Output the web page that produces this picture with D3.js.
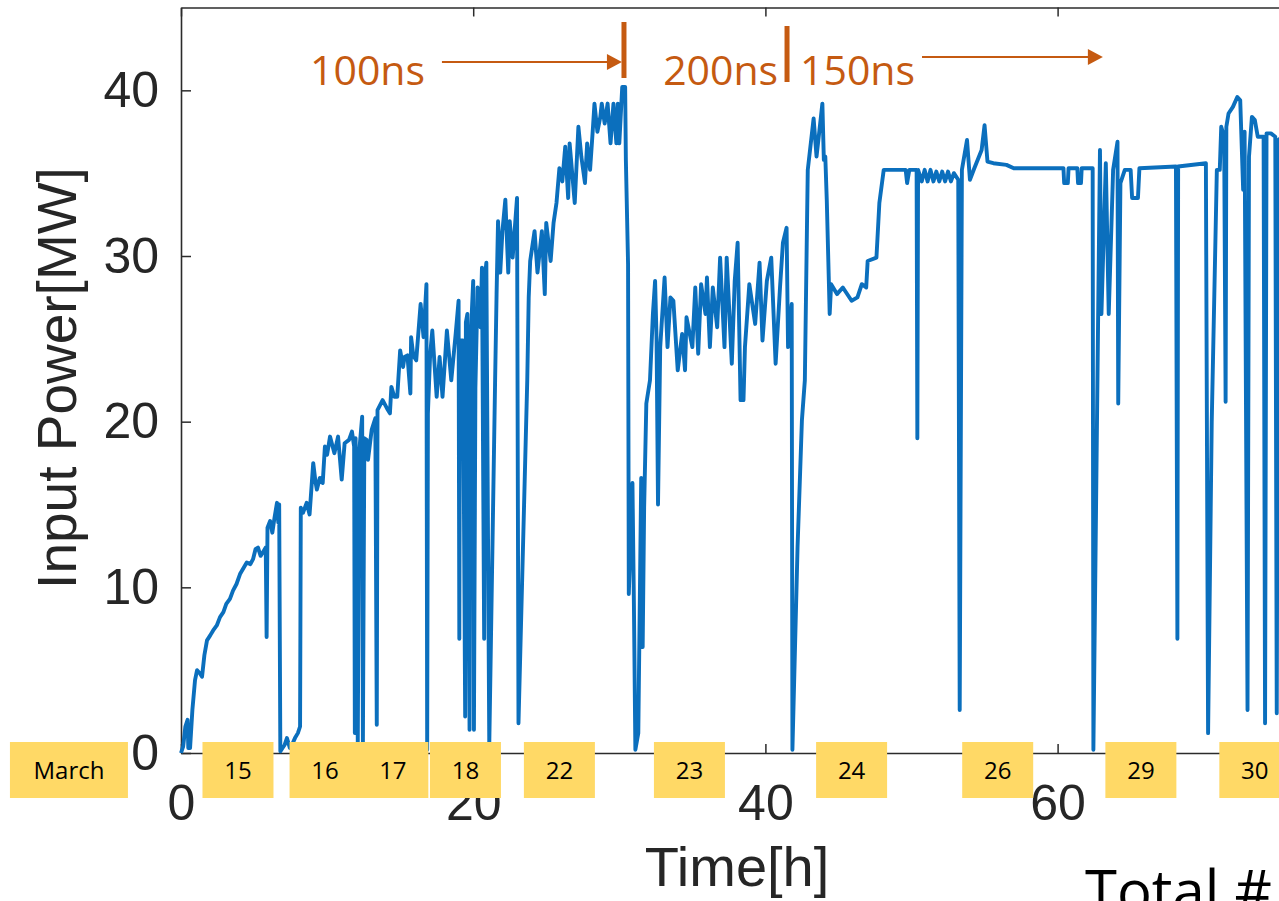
<!DOCTYPE html>
<html>
<head>
<meta charset="utf-8">
<script src="https://cdn.jsdelivr.net/npm/d3@7"></script>
<style>
  body { margin: 0; background: #fff; }
  svg { display: block; }
</style>
</head>
<body>
<div id="chart"></div>
<script>
const Width = 1279
const Height = 901

const xTicks = [0, 20, 40, 60, 80]
const yTicks = [0, 10, 20, 30, 40]

// day markers along the time axis (hours)
const dayLabels = ['March', '15', '16', '17', '18', '22', '23', '24', '26', '29', '30']
const dayHours = [-7.67, 3.9, 9.86, 14.5, 19.47, 25.9, 34.8, 45.9, 55.9, 65.7, 73.5]

// pulse length notes
const pulseLabels = ['100ns', '200ns', '150ns']
const pulseLabelHours = [8.83, 33.0, 42.37]
const pulseBarHours = [30.32, 41.48]
const pulseArrowHours = [[17.86, 30.18], [50.72, 63.1]]

// [hour, MW]
const traceMarch15 = [
  [0, 0], [0.15, 0.4], [0.3, 1.6], [0.45, 2.0], [0.5, 0.3], [0.62, 0.3], [0.78, 2.6], [0.96, 4.4],
  [1.1, 5.0], [1.3, 4.8], [1.44, 4.6], [1.6, 5.9], [1.78, 6.8], [2.0, 7.1], [2.2, 7.4], [2.45, 7.7],
  [2.67, 8.2], [2.9, 8.5], [3.1, 9.0], [3.35, 9.3], [3.56, 9.8], [3.8, 10.2], [4.04, 10.8], [4.3, 11.2],
  [4.5, 11.5], [4.75, 11.4], [4.93, 11.7], [5.1, 12.3], [5.27, 12.4], [5.45, 11.9], [5.6, 12.1], [5.8, 12.4],
  [5.86, 7.0], [5.92, 13.6], [6.1, 14.0], [6.25, 13.3], [6.4, 14.2], [6.57, 15.1], [6.66, 13.9], [6.72, 15.0],
  [6.8, 0.1], [6.95, 0.3], [7.1, 0.5], [7.25, 0.9], [7.45, 0.3], [7.6, 0.5], [7.8, 0.9], [8.0, 1.2], [8.15, 1.6],
]
const traceMarch16to18 = [
  [8.2, 14.8], [8.35, 14.5], [8.6, 15.1], [8.8, 14.4], [9.05, 17.5], [9.2, 16.4], [9.3, 15.9], [9.5, 16.6],
  [9.7, 16.3], [9.85, 18.5], [10.0, 18.0], [10.2, 19.1], [10.5, 18.1], [10.75, 19.1], [11.0, 16.5], [11.2, 18.7],
  [11.5, 18.9], [11.7, 19.4], [11.85, 18.5], [11.9, 1.2], [11.95, 19.0], [12.1, 0.6], [12.2, 18.2], [12.4, 20.3],
  [12.45, 0.6], [12.55, 19.0], [12.7, 18.9], [12.8, 17.7], [13.05, 19.5], [13.3, 20.2], [13.4, 1.7], [13.45, 20.7],
  [13.8, 21.3], [14.1, 20.8], [14.3, 20.5], [14.4, 22.1], [14.6, 21.5], [14.8, 21.5], [15.0, 24.3], [15.2, 23.3],
  [15.3, 23.9], [15.5, 24.0], [15.7, 21.7], [15.75, 25.1], [15.9, 24.0], [16.1, 23.7], [16.4, 27.1], [16.6, 25.1],
  [16.8, 28.3], [16.85, 0.2], [16.9, 20.5], [17.05, 24.0], [17.2, 25.5], [17.5, 21.5], [17.7, 23.9], [17.9, 21.5],
  [18.2, 25.5], [18.5, 22.5], [18.8, 25.3], [19.0, 27.3], [19.05, 6.9], [19.1, 24.9], [19.3, 24.9], [19.45, 2.2],
  [19.5, 26.0], [19.6, 26.5], [19.75, 1.4], [19.8, 24.1], [19.9, 26.5], [20.0, 28.5], [20.05, 1.4], [20.15, 22.0],
  [20.3, 28.1], [20.5, 25.7], [20.6, 29.3], [20.75, 6.9], [20.8, 28.7], [20.9, 29.6], [21.1, 0.5], [21.5, 22.5],
  [21.6, 27.7], [21.7, 32.1], [21.85, 29.0], [22.0, 31.5], [22.2, 33.4], [22.4, 29.0], [22.5, 32.1], [22.7, 29.9],
  [23.0, 33.5], [23.1, 1.8],
]
const traceMarch22 = [
  [23.7, 22.5], [23.8, 27.5], [23.9, 29.7], [24.2, 31.5], [24.4, 29.0], [24.7, 31.5], [24.9, 27.7], [25.0, 32.0],
  [25.3, 29.7], [25.5, 32.0], [25.7, 33.2], [25.9, 35.3], [26.1, 34.5], [26.3, 36.6], [26.5, 33.5], [26.6, 36.8],
  [26.95, 33.2], [27.2, 37.8], [27.4, 36.0], [27.65, 34.4], [27.8, 36.8], [28.0, 35.2], [28.2, 37.8], [28.3, 39.2],
  [28.5, 37.5], [28.7, 38.4], [28.8, 39.2], [29.0, 38.0], [29.2, 39.2], [29.4, 36.8], [29.6, 39.2], [29.8, 36.8],
  [29.9, 39.2], [30.0, 36.8], [30.2, 40.2], [30.4, 40.2], [30.45, 35.8], [30.6, 29.5], [30.65, 9.6],
]
const traceMarch23 = [
  [30.9, 16.3], [31.0, 9.0], [31.1, 0.2], [31.3, 1.2], [31.5, 16.6], [31.6, 6.4], [31.7, 14.8], [31.85, 21.1],
  [32.1, 22.5], [32.3, 26.5], [32.45, 28.5], [32.55, 25.0], [32.65, 15.0], [32.8, 24.5], [33.1, 28.7], [33.3, 24.5],
  [33.5, 27.5], [33.7, 27.3], [34.0, 23.1], [34.3, 25.3], [34.5, 23.1], [34.6, 26.3], [35.0, 24.5], [35.2, 28.1],
  [35.4, 24.1], [35.6, 28.3], [35.9, 26.5], [36.0, 28.7], [36.2, 24.5], [36.4, 28.1], [36.7, 25.7], [36.9, 29.9],
  [37.2, 24.5], [37.35, 29.9], [37.7, 23.5], [37.9, 28.5], [38.1, 30.8], [38.3, 21.3], [38.5, 21.3], [38.6, 24.5],
  [38.9, 28.3], [39.3, 25.9], [39.6, 29.6], [39.8, 24.9], [40.1, 28.5], [40.4, 29.9], [40.7, 23.5], [41.0, 28.1],
  [41.2, 30.8], [41.45, 31.7], [41.55, 24.5], [41.8, 27.1], [41.85, 0.2],
]
const traceMarch24 = [
  [42.2, 12.4], [42.5, 20.1], [42.7, 22.5], [42.85, 32.1], [42.9, 35.2], [43.3, 38.3], [43.5, 36.0], [43.9, 39.2],
  [44.0, 35.8], [44.1, 36.0], [44.2, 33.4], [44.4, 26.5], [44.5, 28.3], [44.9, 27.7], [45.3, 28.1], [45.9, 27.3],
  [46.3, 27.5], [46.6, 28.3], [46.9, 28.1], [47.0, 29.7], [47.6, 29.9], [47.8, 33.2], [48.1, 35.2], [49.6, 35.2],
  [49.7, 34.4], [49.85, 35.2], [50.35, 35.2], [50.4, 19.0], [50.45, 35.2], [50.7, 34.5], [50.9, 35.2], [51.1, 34.5],
  [51.3, 35.2], [51.5, 34.5], [51.7, 35.1], [51.9, 34.5], [52.1, 35.1], [52.3, 34.5], [52.5, 35.1], [52.7, 34.5],
  [52.9, 35.0], [53.2, 34.6], [53.3, 2.6],
]
const traceMarch26 = [
  [53.45, 35.2], [53.8, 37.0], [54.0, 34.6], [54.3, 35.3], [54.8, 36.4], [55.0, 37.9], [55.2, 35.7], [55.6, 35.6],
  [56.5, 35.5], [57.0, 35.3], [60.4, 35.3], [60.45, 34.4], [60.7, 34.4], [60.75, 35.3], [61.35, 35.3], [61.4, 34.4],
  [61.6, 34.4], [61.65, 35.3], [62.4, 35.3], [62.45, 0.2],
]
const traceMarch29 = [
  [62.9, 36.4], [63.0, 26.5], [63.3, 35.6], [63.5, 26.5], [63.8, 35.2], [64.1, 36.9], [64.15, 21.1], [64.3, 34.4],
  [64.6, 35.2], [65.0, 35.2], [65.1, 33.5], [65.5, 33.5], [65.6, 35.3], [68.1, 35.4], [68.2, 6.9], [68.25, 35.4],
  [70.15, 35.6], [70.3, 1.2], [70.55, 20.0], [70.9, 35.2], [71.1, 35.2], [71.2, 37.8], [71.4, 37.2], [71.5, 21.2],
  [71.55, 37.8], [71.7, 38.6], [72.0, 39.0], [72.3, 39.6], [72.5, 39.4], [72.7, 34.0], [72.8, 37.5], [73.0, 2.6],
  [73.1, 36.0], [73.3, 38.4], [73.5, 38.2], [73.7, 37.2], [74.1, 37.2], [74.2, 1.8], [74.3, 37.4], [74.6, 37.4],
  [74.9, 37.2], [75.0, 2.4], [75.1, 37.0], [75.4, 37.2],
]

const trace = [
  ...traceMarch15, ...traceMarch16to18, ...traceMarch22, ...traceMarch23,
  ...traceMarch24, ...traceMarch26, ...traceMarch29,
]

const LineColor = '#0b6fbd'
const NoteColor = '#c55a11'
const BoxColor = '#ffd966'
const AxisColor = '#2b2b2b'

const x = d3.scaleLinear([0, 80], [181, 181 + 80 * 14.61])
const y = d3.scaleLinear([0, 45], [753, 7.5])

function main() {
  const svg = d3.select('#chart').append('svg')
    .attr('width', Width)
    .attr('height', Height)
    .attr('viewBox', [0, 0, Width, Height].join(' '))

  svg.append('rect').attr('width', Width).attr('height', Height).attr('fill', '#fff')

  renderAxes(svg)
  renderTrace(svg)
  renderDayBoxes(svg)
  renderPulseNotes(svg)

  svg.append('text')
    .attr('x', 1085)
    .attr('y', 912)
    .attr('font-family', 'Open Sans, Noto Sans, sans-serif')
    .attr('font-size', 58)
    .attr('fill', '#000')
    .text('Total #')
}

function renderAxes(svg) {
  const g = svg.append('g').attr('color', AxisColor)

  g.append('g')
    .attr('transform', `translate(0,${y(0)})`)
    .call(d3.axisBottom(x).tickValues(xTicks).tickSizeInner(-9).tickSizeOuter(0).tickPadding(31))
  g.append('g')
    .attr('transform', `translate(0,${y(45)})`)
    .call(d3.axisTop(x).tickValues(xTicks).tickSizeInner(-9).tickSizeOuter(0).tickFormat(''))
  g.append('g')
    .attr('transform', `translate(${x(0)},0)`)
    .call(d3.axisLeft(y).tickValues(yTicks).tickSizeInner(-10).tickSizeOuter(0).tickPadding(22))

  g.selectAll('.domain').attr('stroke-width', 1.6)
  g.selectAll('.tick line').attr('stroke-width', 1.5)
  g.selectAll('.tick text')
    .attr('font-family', 'Liberation Sans, Arial, sans-serif')
    .attr('font-size', 50)
    .attr('fill', '#262626')

  svg.append('text')
    .attr('transform', `translate(76,378) rotate(-90)`)
    .attr('text-anchor', 'middle')
    .attr('font-family', 'Liberation Sans, Arial, sans-serif')
    .attr('font-size', 55)
    .attr('fill', '#262626')
    .text('Input Power[MW]')

  svg.append('text')
    .attr('x', 737)
    .attr('y', 886)
    .attr('text-anchor', 'middle')
    .attr('font-family', 'Liberation Sans, Arial, sans-serif')
    .attr('font-size', 56)
    .attr('fill', '#262626')
    .text('Time[h]')
}

function renderTrace(svg) {
  const line = d3.line().x(d => x(d[0])).y(d => y(d[1]))
  svg.append('path')
    .datum(trace)
    .attr('d', line)
    .attr('fill', 'none')
    .attr('stroke', LineColor)
    .attr('stroke-width', 3.9)
    .attr('stroke-linejoin', 'round')
}

function renderDayBoxes(svg) {
  const days = dayLabels.map((label, i) => ({ label, h: dayHours[i] }))
  const g = svg.append('g').classed('days', true)
  const box = g.selectAll('g').data(days).enter().append('g')
    .attr('transform', d => `translate(${x(d.h)},770)`)
  box.append('rect')
    .attr('x', d => d.label === 'March' ? -59 : -35.5)
    .attr('y', -28)
    .attr('width', d => d.label === 'March' ? 118 : 71)
    .attr('height', 56)
    .attr('fill', BoxColor)
  box.append('text')
    .attr('text-anchor', 'middle')
    .attr('dy', '0.36em')
    .attr('font-family', 'Open Sans, Noto Sans, sans-serif')
    .attr('font-size', 24)
    .attr('fill', '#000')
    .text(d => d.label)
}

function renderPulseNotes(svg) {
  const g = svg.append('g').attr('fill', NoteColor).attr('stroke', NoteColor)

  g.selectAll('text').data(pulseLabels).enter().append('text')
    .attr('x', (d, i) => x(pulseLabelHours[i]))
    .attr('y', 85)
    .attr('stroke', 'none')
    .attr('font-family', 'Open Sans, Noto Sans, sans-serif')
    .attr('font-size', 41)
    .text(d => d)

  g.selectAll('.bar').data(pulseBarHours).enter().append('line')
    .classed('bar', true)
    .attr('x1', d => x(d)).attr('x2', d => x(d))
    .attr('y1', (d, i) => 22 + i * 4)
    .attr('y2', (d, i) => 78 + i * 4)
    .attr('stroke-width', 5)

  const arrows = g.selectAll('.arrow').data(pulseArrowHours).enter().append('g')
    .classed('arrow', true)
    .attr('transform', (d, i) => `translate(0,${i === 0 ? 62 : 57})`)
  arrows.append('line')
    .attr('x1', d => x(d[0]))
    .attr('x2', d => x(d[1]) - 12)
    .attr('stroke-width', 2.2)
  arrows.append('path')
    .attr('stroke', 'none')
    .attr('d', d => {
      const tip = x(d[1])
      return `M${tip},0L${tip - 15},-8L${tip - 15},8Z`
    })
}

main()
</script>
</body>
</html>
